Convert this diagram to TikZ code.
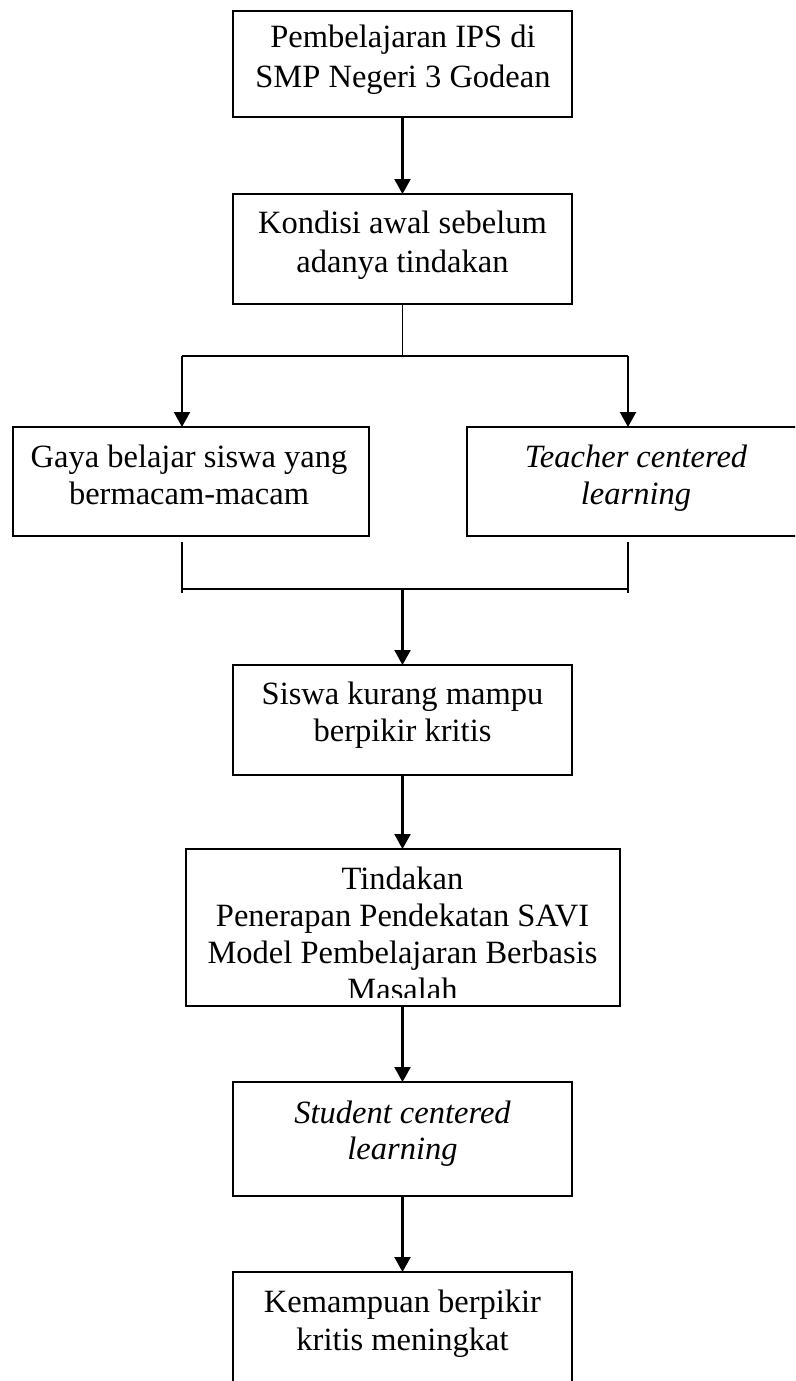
\documentclass[tikz,border=0pt]{standalone}
\usepackage{fontspec}
\setmainfont{Liberation Serif}
\usetikzlibrary{arrows.meta}
\begin{document}
\begin{tikzpicture}[x=1pt,y=-1pt,
  box/.style={draw=black,line width=2pt,inner sep=0pt,outer sep=0pt,fill=white},
  txt/.style={inner sep=0pt,outer sep=0pt,anchor=base,font=\fontsize{32.5}{37.5}\selectfont},
  itxt/.style={txt,font=\fontsize{32.5}{37.5}\selectfont\itshape},
  arr/.style={draw=black,line width=2.2pt,-{Triangle[width=16pt,length=15pt]}},
  ln/.style={draw=black,line width=2pt},
  thin/.style={draw=black,line width=1.6pt}]
\useasboundingbox (0,0) rectangle (795,1381);
\clip (0,0) rectangle (795,1381);
\fill[white] (0,0) rectangle (795,1381);

% boxes
\node[box,minimum width=339pt,minimum height=106pt] (b1) at (402.5,64) {};
\node[box,minimum width=339pt,minimum height=110pt] (b2) at (402.5,249) {};
\node[box,minimum width=356pt,minimum height=109pt] (b3) at (191,481.5) {};
\node[box,minimum width=338pt,minimum height=109pt] (b4) at (636,481.5) {};
\node[box,minimum width=339pt,minimum height=110pt] (b5) at (402.5,720) {};
\node[box,minimum width=434pt,minimum height=157pt] (b6) at (402.5,927.5) {};
\node[box,minimum width=339pt,minimum height=114pt] (b7) at (402.5,1139) {};
\node[box,minimum width=339pt,minimum height=148pt] (b8) at (402.5,1346) {};

% texts
\node[txt] (t1a) at (403,48) {Pembelajaran IPS di};
\node[txt] (t1b) at (403,87) {SMP Negeri 3 Godean};
\node[txt] (t2a) at (402.5,233) {Kondisi awal sebelum};
\node[txt] (t2b) at (402.5,272) {adanya tindakan};
\node[txt] (t3a) at (189,467) {Gaya belajar siswa yang};
\node[txt] (t3b) at (189,504) {bermacam-macam};
\node[itxt] (t4a) at (636,467) {Teacher centered};
\node[itxt] (t4b) at (636,504) {learning};
\node[txt] (t5a) at (402.5,704) {Siswa kurang mampu};
\node[txt] (t5b) at (402.5,741) {berpikir kritis};
\node[txt] (t6a) at (402.5,889) {Tindakan};
\node[txt] (t6b) at (402.5,926) {Penerapan Pendekatan SAVI};
\node[txt] (t6c) at (402.5,963) {Model Pembelajaran Berbasis};
\begin{scope}
\clip (190,970) rectangle (615,997);
\node[txt] (t6d) at (402.5,1000) {Masalah};
\end{scope}
\node[itxt] (t7a) at (402.5,1123) {Student centered};
\node[itxt] (t7b) at (402.5,1159) {learning};
\node[txt] (t8a) at (402.5,1312) {Kemampuan berpikir};
\node[txt] (t8b) at (402.5,1350) {kritis meningkat};

% connector coordinates
\coordinate (j) at (402.5,356);
\coordinate (jl) at (182,356);
\coordinate (jr) at (628,356);
\coordinate (kl1) at (182,542);
\coordinate (kl2) at (182,593);
\coordinate (kr1) at (628,542);
\coordinate (kr2) at (628,593);
\coordinate (k) at (402.5,589);

% connectors
\draw[arr] (b1) -- (b2);
\draw[thin] (b2.south) -- (j);
\draw[ln] (jl) -- (jr);
\draw[arr] (jl) -- (jl |- b3.north);
\draw[arr] (jr) -- (jr |- b4.north);
\draw[thin] (kl1) -- (kl2);
\draw[thin] (kr1) -- (kr2);
\draw[ln] (kl1 |- k) -- (kr1 |- k);
\draw[arr] (k) -- (b5);
\draw[arr] (b5) -- (b6);
\draw[arr] (b6) -- (b7);
\draw[arr] (b7) -- (b8);
\end{tikzpicture}
\end{document}
